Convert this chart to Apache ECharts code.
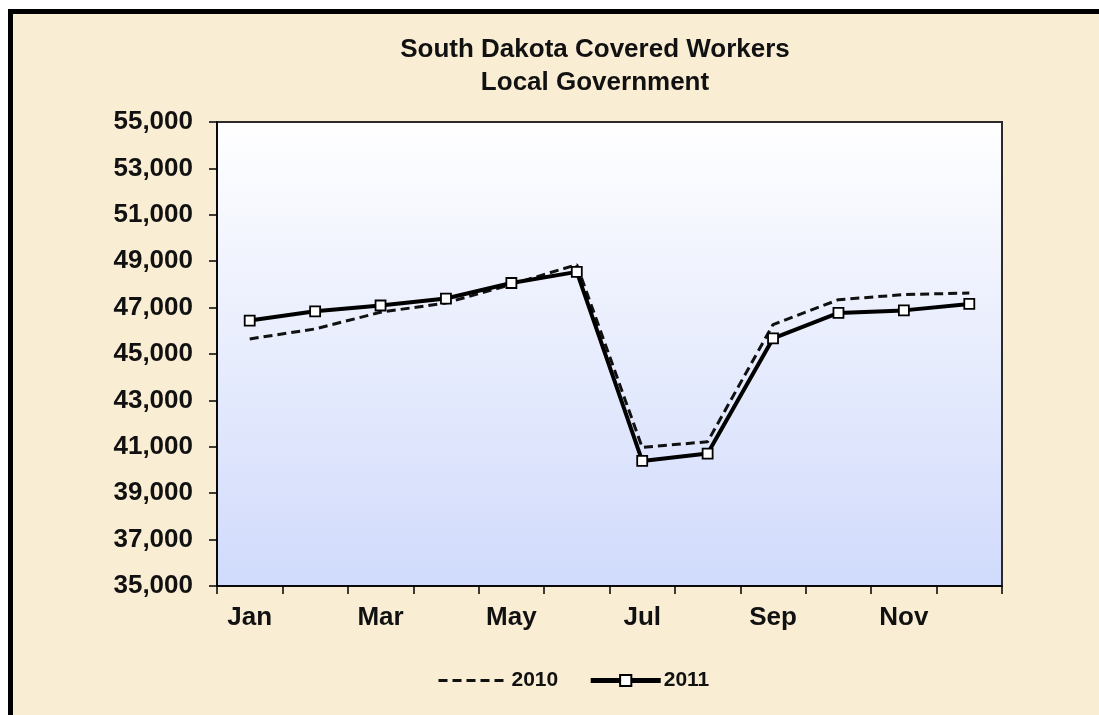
<!DOCTYPE html>
<html>
<head>
<meta charset="utf-8">
<script src="https://cdn.jsdelivr.net/npm/echarts@6/dist/echarts.min.js"></script>
<style>
html,body{margin:0;padding:0;background:#ffffff;width:1099px;height:715px;overflow:hidden;}
#frame{position:absolute;left:8px;top:9px;width:1200px;height:800px;background:#F9EDD4;border-left:5px solid #000;border-top:5px solid #000;}
#chart{position:absolute;left:0;top:0;width:1099px;height:715px;}
</style>
</head>
<body>
<div id="frame"></div>
<div id="chart"></div>
<script>
const months = ['Jan','Feb','Mar','Apr','May','Jun','Jul','Aug','Sep','Oct','Nov','Dec'];
const values2010 = [45650, 46080, 46800, 47200, 48000, 48850, 40970, 41220, 46270, 47340, 47560, 47630];
const values2011 = [46440, 46840, 47090, 47390, 48060, 48540, 40390, 40710, 45670, 46770, 46880, 47160];
const yMin = 35000, yMax = 55000, yStep = 2000;
const titleLines = ['South Dakota Covered Workers', 'Local Government'];

const FONT = '"Liberation Sans", Arial, sans-serif';
const chart = echarts.init(document.getElementById('chart'));
chart.setOption({
  backgroundColor: 'transparent',
  animation: false,
  title: {
    text: titleLines.join('\n'),
    left: 595,
    textAlign: 'center',
    top: 33,
    padding: 0,
    textStyle: {fontFamily: FONT, fontSize: 26, fontWeight: 'bold', color: '#111', lineHeight: 33}
  },
  legend: {
    left: 437,
    top: 670,
    padding: 0,
    itemWidth: 70,
    itemHeight: 14,
    itemGap: 30,
    textStyle: {fontFamily: FONT, fontSize: 21, fontWeight: 'bold', color: '#111', padding: [0,0,0,-2]},
    data: [
      {name: '2010', itemStyle: {opacity: 0}, lineStyle: {width: 3, type: [9, 5], color: '#111'}},
      {name: '2011', lineStyle: {width: 5, color: '#000'}}
    ]
  },
  grid: {
    left: 217, top: 122, right: 97, bottom: 129,
    show: true,
    borderColor: '#2a2a2a',
    borderWidth: 2,
    backgroundColor: new echarts.graphic.LinearGradient(0, 0, 0, 1, [
      {offset: 0, color: '#FFFFFF'},
      {offset: 1, color: '#D0DAFB'}
    ])
  },
  xAxis: {
    type: 'category',
    data: months,
    boundaryGap: true,
    axisLine: {lineStyle: {color: '#000', width: 1.5}},
    axisTick: {show: true, interval: 0, length: 8, lineStyle: {color: '#000', width: 1.5}},
    axisLabel: {interval: 1, margin: 19, fontFamily: FONT, fontSize: 26, fontWeight: 'bold', color: '#111'},
    splitLine: {show: false}
  },
  yAxis: {
    type: 'value',
    min: yMin, max: yMax, interval: yStep,
    axisLine: {show: true, lineStyle: {color: '#000', width: 1.5}},
    axisTick: {show: true, length: 8, lineStyle: {color: '#000', width: 1.5}},
    axisLabel: {
      margin: 24, fontFamily: FONT, fontSize: 26, fontWeight: 'bold', color: '#111',
      formatter: v => v.toLocaleString('en-US')
    },
    splitLine: {show: false}
  },
  series: [
    {
      name: '2010',
      type: 'line',
      data: values2010,
      symbol: 'none',
      lineStyle: {color: '#111', width: 3, type: [9, 5]},
      itemStyle: {color: '#111'},
      z: 2
    },
    {
      name: '2011',
      type: 'line',
      data: values2011,
      symbol: 'rect',
      symbolSize: 10,
      lineStyle: {color: '#000', width: 4},
      itemStyle: {color: '#fff', borderColor: '#000', borderWidth: 1.8},
      z: 3
    }
  ]
});
</script>
</body>
</html>
